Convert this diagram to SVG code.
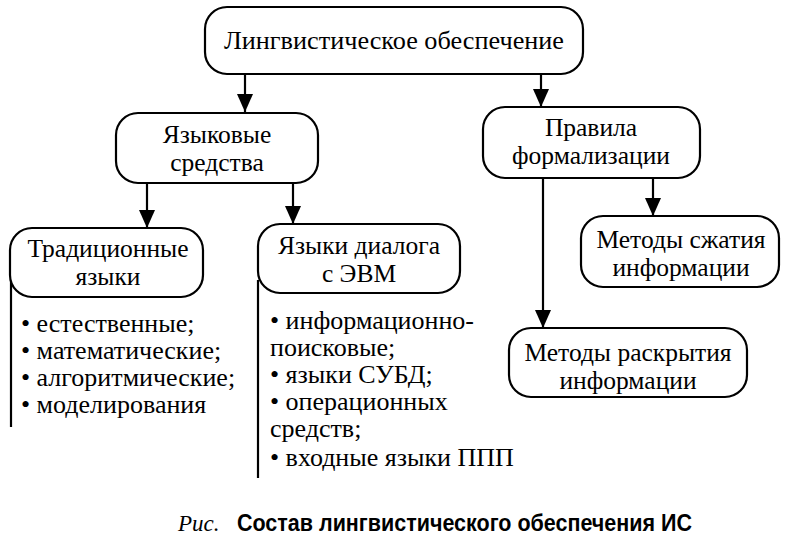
<svg xmlns="http://www.w3.org/2000/svg" width="786" height="541" viewBox="0 0 786 541">
<style>
.box{fill:#fff;stroke:#000;stroke-width:2.2}
.t{font-size:25.5px;fill:#000;text-anchor:middle}
.l{font-size:26px;fill:#000}
.ln{stroke:#000;stroke-width:2.2;fill:none}
.cap{font-size:23px;font-weight:bold;fill:#000}
.capi{font-size:23px;font-style:italic;fill:#000}
</style>
<defs>
<marker id="ah" markerWidth="18" markerHeight="16" refX="18" refY="8" orient="auto" markerUnits="userSpaceOnUse" viewBox="0 0 18 16">
<path d="M0,0 L18,8 L0,16 Z" fill="#000"/>
</marker>
</defs>
<g id="connectors">
<line class="ln" x1="245" y1="74" x2="245" y2="112" marker-end="url(#ah)"/>
<line class="ln" x1="541" y1="74" x2="541" y2="107" marker-end="url(#ah)"/>
<line class="ln" x1="147" y1="183" x2="147" y2="228" marker-end="url(#ah)"/>
<line class="ln" x1="293" y1="183" x2="293" y2="224" marker-end="url(#ah)"/>
<line class="ln" x1="653" y1="178" x2="653" y2="216" marker-end="url(#ah)"/>
<line class="ln" x1="543" y1="178" x2="543" y2="328" marker-end="url(#ah)"/>
<line class="ln" x1="11" y1="280" x2="11" y2="427"/>
<line class="ln" x1="258" y1="280" x2="258" y2="478"/>
</g>
<g font-family="Liberation Serif, Tinos, DejaVu Serif, Noto Serif, serif">
<g id="n-root">
<rect class="box" x="205" y="7" width="378" height="67" rx="22"/>
<text class="t" x="394" y="49" textLength="340" lengthAdjust="spacingAndGlyphs">Лингвистическое обеспечение</text>
</g>
<g id="n-yazykovye">
<rect class="box" x="116" y="113" width="202" height="70" rx="22"/>
<text class="t" x="217" y="143">Языковые</text>
<text class="t" x="217" y="171">средства</text>
</g>
<g id="n-pravila">
<rect class="box" x="483" y="107" width="217" height="71" rx="22"/>
<text class="t" x="591" y="136">Правила</text>
<text class="t" x="591" y="164">формализации</text>
</g>
<g id="n-trad">
<rect class="box" x="10" y="228" width="193" height="69" rx="22"/>
<text class="t" x="108" y="257">Традиционные</text>
<text class="t" x="108" y="285">языки</text>
</g>
<g id="n-dialog">
<rect class="box" x="258" y="224" width="202" height="69" rx="22"/>
<text class="t" x="359" y="254">Языки диалога</text>
<text class="t" x="359" y="282">с ЭВМ</text>
</g>
<g id="n-szhatie">
<rect class="box" x="581" y="216" width="198" height="71" rx="22"/>
<text class="t" x="681" y="248">Методы сжатия</text>
<text class="t" x="681" y="276">информации</text>
</g>
<g id="n-raskrytie">
<rect class="box" x="509" y="328" width="238" height="69" rx="22"/>
<text class="t" x="628" y="361">Методы раскрытия</text>
<text class="t" x="628" y="389">информации</text>
</g>
<g id="list-trad">
<text class="l" x="21" y="332">• естественные;</text>
<text class="l" x="21" y="359">• математические;</text>
<text class="l" x="21" y="386">• алгоритмические;</text>
<text class="l" x="21" y="413">• моделирования</text>
</g>
<g id="list-dialog">
<text class="l" x="270" y="329">• информационно-</text>
<text class="l" x="270" y="356">поисковые;</text>
<text class="l" x="270" y="383">• языки СУБД;</text>
<text class="l" x="270" y="410">• операционных</text>
<text class="l" x="270" y="437">средств;</text>
<text class="l" x="270" y="466">• входные языки ППП</text>
</g>
<g id="caption">
<text class="capi" x="178" y="531">Рис.</text>
<text class="cap" x="237" y="531" textLength="455" lengthAdjust="spacingAndGlyphs" font-family="Liberation Sans Narrow, Liberation Sans, Arial, sans-serif">Состав лингвистического обеспечения ИС</text>
</g>
</g>
</svg>
